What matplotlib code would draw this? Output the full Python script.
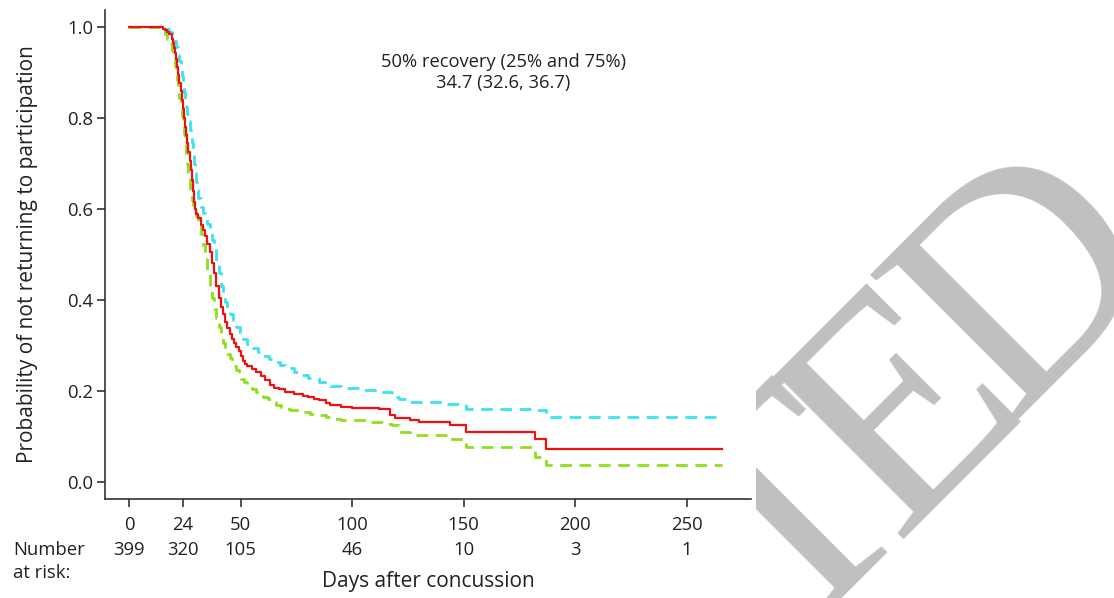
import matplotlib
matplotlib.use("Agg")
import matplotlib.pyplot as plt
import matplotlib.transforms as mtransforms
from matplotlib.patches import Rectangle

plt.rcParams['font.family'] = ['Open Sans', 'DejaVu Sans']

# Kaplan-Meier estimate
km_days = [0, 15, 16, 17, 18, 19, 19.5, 20, 20.5, 21, 21.5, 22, 22.5, 23, 23.5, 24, 24.5,
           25, 25.5, 26, 26.5, 27, 27.5, 28, 28.5, 29, 29.5, 30, 31, 32, 33, 34, 35, 36,
           37, 38, 39, 40, 41, 42, 43, 44, 45, 46, 47, 48, 49, 50, 51, 52, 53, 55, 57,
           59, 61, 63, 65, 67, 70, 74, 78, 80, 83, 85, 88, 90, 95, 100, 112, 117, 119,
           126, 130, 144, 151, 182, 187, 266]
km_prob = [1.0, 0.997, 0.993, 0.99, 0.985, 0.975, 0.965, 0.955, 0.943, 0.93, 0.913,
           0.895, 0.878, 0.86, 0.84, 0.82, 0.80, 0.78, 0.762, 0.745, 0.725, 0.705, 0.685,
           0.665, 0.64, 0.615, 0.60, 0.59, 0.58, 0.565, 0.553, 0.54, 0.523, 0.505, 0.482,
           0.46, 0.43, 0.405, 0.385, 0.368, 0.352, 0.338, 0.325, 0.315, 0.305, 0.296,
           0.288, 0.276, 0.265, 0.26, 0.255, 0.248, 0.241, 0.233, 0.223, 0.213, 0.206,
           0.203, 0.198, 0.192, 0.189, 0.187, 0.183, 0.18, 0.174, 0.168, 0.165, 0.162,
           0.16, 0.147, 0.14, 0.136, 0.132, 0.124, 0.11, 0.093, 0.073, 0.073]

# upper confidence limit
up_days = [0, 17, 18, 19, 20, 21, 22, 22.5, 23, 23.5, 24, 24.5, 25, 25.5, 26, 26.5, 27,
           27.5, 28, 28.5, 29, 29.5, 30, 30.5, 31, 32, 33, 34, 35, 36, 37, 38, 39, 40, 41,
           42, 43, 44, 45, 46.5, 48, 49.5, 51, 53, 55, 57.5, 60, 62.5, 65, 67.5, 70, 74,
           77, 80, 85, 90, 95, 104, 112, 118, 120, 121, 126, 142, 151, 182, 187, 266]
up_prob = [1.0, 0.997, 0.99, 0.98, 0.97, 0.957, 0.94, 0.925, 0.91, 0.893, 0.875, 0.858,
           0.84, 0.825, 0.81, 0.793, 0.775, 0.76, 0.745, 0.723, 0.70, 0.68, 0.66, 0.643,
           0.625, 0.605, 0.592, 0.58, 0.567, 0.553, 0.532, 0.51, 0.485, 0.46, 0.43, 0.41,
           0.395, 0.382, 0.37, 0.355, 0.341, 0.328, 0.315, 0.304, 0.294, 0.285, 0.277,
           0.27, 0.263, 0.256, 0.25, 0.241, 0.234, 0.228, 0.219, 0.21, 0.207, 0.202,
           0.198, 0.195, 0.186, 0.181, 0.176, 0.172, 0.161, 0.158, 0.143, 0.143]

# lower confidence limit
lo_days = [0, 15, 16, 17, 18, 19, 19.5, 20, 20.5, 21, 21.5, 22, 22.5, 23, 23.5, 24, 24.5,
           25, 25.5, 26, 26.5, 27, 27.5, 28, 28.5, 29, 30, 31, 32, 33, 34, 35, 36, 37, 38,
           39, 40, 41, 42, 43, 44, 45, 46, 47, 48, 49, 50, 51.5, 53, 55, 57, 58.5, 60, 62,
           64, 66, 68, 70, 72, 77, 81, 85, 88, 90, 95, 106, 115, 118, 121, 126, 144, 151,
           182, 187, 266]
lo_prob = [1.0, 0.993, 0.985, 0.975, 0.963, 0.95, 0.94, 0.93, 0.915, 0.9, 0.883, 0.865,
           0.845, 0.825, 0.805, 0.785, 0.765, 0.745, 0.723, 0.70, 0.673, 0.645, 0.632,
           0.62, 0.61, 0.60, 0.585, 0.57, 0.545, 0.52, 0.49, 0.46, 0.43, 0.405, 0.38, 0.36,
           0.34, 0.322, 0.305, 0.293, 0.282, 0.273, 0.265, 0.255, 0.245, 0.235, 0.226,
           0.219, 0.212, 0.205, 0.198, 0.192, 0.187, 0.181, 0.175, 0.169, 0.164, 0.16,
           0.157, 0.153, 0.15, 0.147, 0.142, 0.138, 0.135, 0.132, 0.127, 0.124, 0.11,
           0.103, 0.093, 0.077, 0.055, 0.037, 0.037]

xticks = [0, 24, 50, 100, 150, 200, 250]
yticks = [0.0, 0.2, 0.4, 0.6, 0.8, 1.0]
at_risk = ['399', '320', '105', '46', '10', '3', '1']

fig = plt.figure(figsize=(11.14, 5.98), dpi=100)
ax = fig.add_axes([105 / 1114, 1 - 499 / 598, 646 / 1114, 489 / 598])

# watermark behind the (white) chart area
wm = dict(fontsize=227, family='Liberation Serif', color='#c0c0c0',
          rotation=45, rotation_mode='anchor', ha='center', va='baseline', zorder=-3)
fig.text(852.5 / 1114, 1 - 581.5 / 598, 'T', **wm)
fig.text(963 / 1114, 1 - 471 / 598, 'E', **wm)
fig.text(1088 / 1114, 1 - 340 / 598, 'D', **wm)
fig.patches.append(Rectangle((0, 0), 756 / 1114, 1, transform=fig.transFigure,
                             facecolor='white', edgecolor='none', zorder=-2))

ax.plot(up_days, up_prob, drawstyle='steps-post', color='#3ce2ef', lw=2.0,
        linestyle=(0, (4.2, 2.75)))
ax.plot(lo_days, lo_prob, drawstyle='steps-post', color='#8ce01c', lw=2.0,
        linestyle=(0, (4.2, 2.75)))
ax.plot(km_days, km_prob, drawstyle='steps-post', color='#ee1111', lw=1.6)

ax.set_xlim(-10.9, 278.8)
ax.set_ylim(-0.038, 1.038)
ax.set_xticks(xticks)
ax.set_yticks(yticks)
ax.set_yticklabels([f'{v:.1f}' for v in yticks])
for s in ['top', 'right']:
    ax.spines[s].set_visible(False)
for s in ['left', 'bottom']:
    ax.spines[s].set_color('#333333')
    ax.spines[s].set_linewidth(1.2)
ax.tick_params(axis='both', length=6, width=1.2, color='#333333', labelsize=13.3,
               labelcolor='#222222')
ax.tick_params(axis='x', pad=6.5)
ax.tick_params(axis='y', pad=2.5)
ax.patch.set_alpha(0)

ax.set_ylabel('Probability of not returning to participation', fontsize=15, color='#222222')
ax.yaxis.set_label_coords(-0.104, 0.5)
ax.set_xlabel('Days after concussion', fontsize=15, color='#222222')
ax.xaxis.set_label_coords(0.5, -0.147)

ax.text(167.6, 0.924, '50% recovery (25% and 75%)', ha='center', va='center',
        fontsize=13.2, color='#222222')
ax.text(167.6, 0.877, '34.7 (32.6, 36.7)', ha='center', va='center',
        fontsize=13.2, color='#222222')

# number at risk table
trans = mtransforms.blended_transform_factory(ax.transData, fig.transFigure)
for d, n in zip(xticks, at_risk):
    ax.text(d, 1 - 550 / 598, n, transform=trans, ha='center', va='center',
            fontsize=13.3, color='#222222', clip_on=False)
fig.text(13 / 1114, 1 - 550 / 598, 'Number', ha='left', va='center', fontsize=13.3,
         color='#222222')
fig.text(13 / 1114, 1 - 573 / 598, 'at risk:', ha='left', va='center', fontsize=13.3,
         color='#222222')

fig.savefig('out.png', dpi=100, facecolor='white')
